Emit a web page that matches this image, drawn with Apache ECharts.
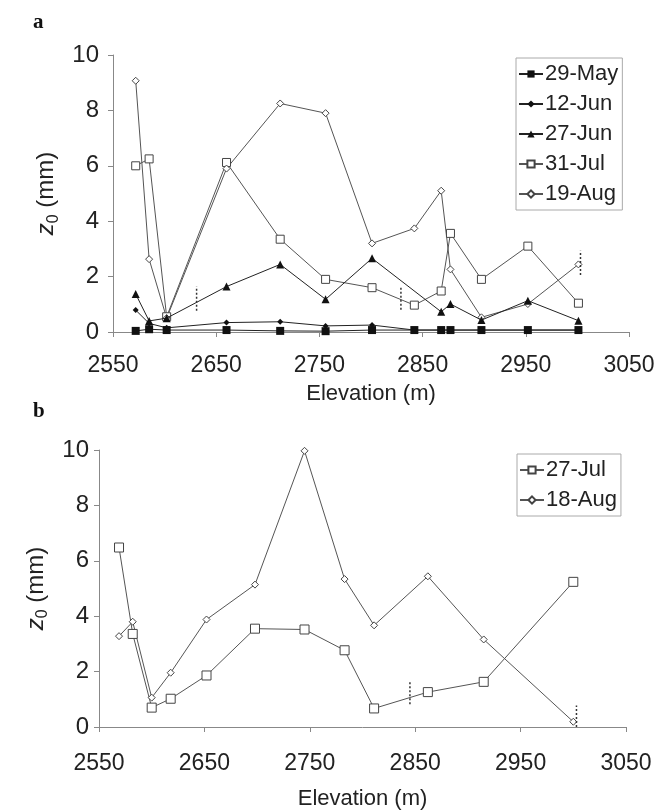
<!DOCTYPE html>
<html>
<head>
<meta charset="utf-8">
<script src="https://cdn.jsdelivr.net/npm/echarts@6/dist/echarts.min.js"></script>
<style>
html, body { margin: 0; padding: 0; background: #fff; }
#main { width: 660px; height: 811px; }
</style>
</head>
<body>
<div id="main"></div>
<script>
// panel a: elevation of the sites (m) and z0 (mm) for each date
var elevA = [2572, 2585, 2602, 2660, 2712, 2756, 2801, 2842, 2868, 2877, 2907, 2952, 3001];
var may29 = [0.04, 0.10, 0.07, 0.07, 0.04, 0.03, 0.07, 0.07, 0.07, 0.07, 0.07, 0.07, 0.07];
var jun12 = [0.79, 0.31, 0.15, 0.34, 0.37, 0.22, 0.25, 0.07, 0.07, 0.07, 0.07, 0.07, 0.07];
var jun27 = [1.37, 0.40, 0.50, 1.64, 2.44, 1.18, 2.66, null, 0.73, 1.01, 0.43, 1.13, 0.41];
var jul31 = [6.00, 6.25, 0.55, 6.12, 3.35, 1.90, 1.60, 0.97, 1.48, 3.56, 1.90, 3.10, 1.04];
var aug19 = [9.07, 2.63, 0.50, 5.90, 8.25, 7.90, 3.20, 3.74, 5.10, 2.26, 0.53, 1.01, 2.44];
// dotted markers: [elevation, low, high]
var marksA = [[2631, 0.77, 1.64], [2829, 0.80, 1.60], [3003, 2.06, 2.93]];

// panel b
var elevB = [2569, 2582, 2600, 2618, 2652, 2698, 2745, 2783, 2811, 2862, 2915, 3000];
var jul27 = [6.48, 3.36, 0.70, 1.02, 1.86, 3.55, 3.52, 2.77, 0.67, 1.26, 1.63, 5.24];
var aug18 = [3.28, 3.80, 1.06, 1.96, 3.88, 5.14, 9.97, 5.34, 3.67, 5.44, 3.16, 0.19];
var marksB = [[2845, 0.82, 1.68], [3003, 0.00, 0.78]];

var xTicks = [2550, 2650, 2750, 2850, 2950, 3050];
var yTicks = [0, 2, 4, 6, 8, 10];

var FONT = 'Liberation Sans';
var pairs = function(xs, ys){
	var out = [];
	for(var i = 0; i < xs.length; i++){
		if(ys[i] !== null) out.push([xs[i], ys[i]]);
	}
	return out;
}

var lineSeries = function(name, xs, ys, idx, symbol, size, hollow){
	return {
		name: name,
		type: 'line',
		xAxisIndex: idx,
		yAxisIndex: idx,
		data: pairs(xs, ys),
		symbol: symbol,
		symbolSize: size,
		connectNulls: true,
		lineStyle: {color: hollow ? '#555' : '#222', width: 1},
		itemStyle: hollow ? {color: '#fff', borderColor: '#444', borderWidth: 1} : {color: '#111'},
		z: hollow ? 3 : 4
	};
}

var markSeries = function(marks, idx){
	var list = [];
	for(var i = 0; i < marks.length; i++){
		list.push({
			type: 'line',
			xAxisIndex: idx,
			yAxisIndex: idx,
			data: [[marks[i][0], marks[i][1]], [marks[i][0], marks[i][2]]],
			showSymbol: false,
			silent: true,
			lineStyle: {color: '#333', width: 1.5, type: [2, 2]},
			z: 5
		});
	}
	return list;
}

var xAxisOf = function(idx, labelMargin, nameGap){
	return {
		gridIndex: idx,
		type: 'value',
		min: xTicks[0],
		max: xTicks[xTicks.length - 1],
		interval: 100,
		name: 'Elevation (m)',
		nameLocation: 'middle',
		nameGap: nameGap,
		nameTextStyle: {fontFamily: FONT, fontSize: 22, color: '#222'},
		axisLine: {show: true, onZero: false, lineStyle: {color: '#888'}},
		axisTick: {show: true, length: 5, lineStyle: {color: '#888'}},
		axisLabel: {fontFamily: FONT, fontSize: 23, color: '#222', margin: labelMargin,
			formatter: function(v){ return String(v); }},
		splitLine: {show: false}
	};
}

var yAxisOf = function(idx, labelMargin, nameGap){
	return {
		gridIndex: idx,
		type: 'value',
		min: yTicks[0],
		max: yTicks[yTicks.length - 1],
		interval: 2,
		name: '{z|z}{s|0}{n| (mm)}',
		nameLocation: 'middle',
		nameRotate: 90,
		nameGap: nameGap,
		nameTextStyle: {
			fontFamily: FONT, color: '#222',
			rich: {
				z: {fontFamily: FONT, fontSize: 24, fontStyle: 'italic', color: '#222', lineHeight: 30, verticalAlign: 'middle'},
				s: {fontFamily: FONT, fontSize: 16, color: '#222', lineHeight: 18, verticalAlign: 'bottom'},
				n: {fontFamily: FONT, fontSize: 24, color: '#222', lineHeight: 30, verticalAlign: 'middle'}
			}
		},
		axisLine: {show: true, lineStyle: {color: '#888'}},
		axisTick: {show: true, length: 5, lineStyle: {color: '#888'}},
		axisLabel: {fontFamily: FONT, fontSize: 24, color: '#222', margin: labelMargin},
		splitLine: {show: false}
	};
}

var legendOf = function(names, left, top){
	return {
		data: names,
		orient: 'vertical',
		left: left,
		top: top,
		itemWidth: 24,
		itemHeight: 9,
		itemGap: 8,
		padding: [5, 4, 5, 2],
		borderColor: '#aaa',
		borderWidth: 1,
		textStyle: {fontFamily: FONT, fontSize: 22, color: '#222', padding: [0, 0, 0, -3]}
	};
}

var series = [
	lineSeries('29-May', elevA, may29, 0, 'rect', 8, false),
	lineSeries('12-Jun', elevA, jun12, 0, 'diamond', 6, false),
	lineSeries('27-Jun', elevA, jun27, 0, 'triangle', 8, false),
	lineSeries('31-Jul', elevA, jul31, 0, 'rect', 8, true),
	lineSeries('19-Aug', elevA, aug19, 0, 'diamond', 7, true),
	lineSeries('27-Jul', elevB, jul27, 1, 'rect', 9, true),
	lineSeries('18-Aug', elevB, aug18, 1, 'diamond', 7, true)
].concat(markSeries(marksA, 0), markSeries(marksB, 1));

var chart = echarts.init(document.getElementById('main'), null, {renderer: 'canvas'});
chart.setOption({
	animation: false,
	backgroundColor: '#fff',
	title: [
		{text: 'a', left: 28, top: 7, textStyle: {fontFamily: 'Liberation Serif', fontWeight: 'bold', fontSize: 21, color: '#111'}},
		{text: 'b', left: 28, top: 396, textStyle: {fontFamily: 'Liberation Serif', fontWeight: 'bold', fontSize: 21, color: '#111'}}
	],
	grid: [
		{left: 113, top: 55, width: 516, height: 277},
		{left: 99, top: 450, width: 527, height: 278}
	],
	xAxis: [xAxisOf(0, 22, 51), xAxisOf(1, 25, 61)],
	yAxis: [yAxisOf(0, 14, 38), yAxisOf(1, 10, 48)],
	legend: [
		legendOf(['29-May', '12-Jun', '27-Jun', '31-Jul', '19-Aug'], 516, 58),
		legendOf(['27-Jul', '18-Aug'], 517, 454)
	],
	series: series
});
</script>
</body>
</html>
